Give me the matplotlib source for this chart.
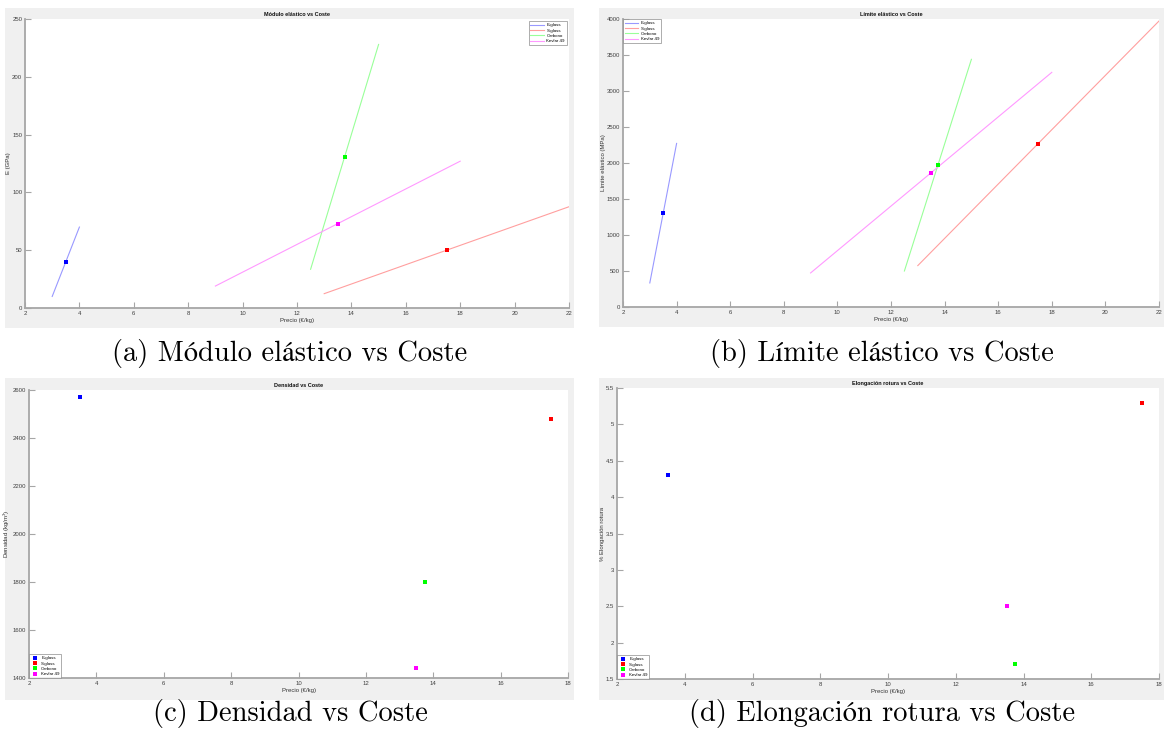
import matplotlib
matplotlib.use("Agg")
import matplotlib.pyplot as plt
from matplotlib.patches import Rectangle

# ---------------- data ----------------
materials = ['E-glass', 'S-glass', 'Carbono', 'Kevlar 49']
precio = [3.5, 17.5, 13.75, 13.5]
modulo = [40, 50, 131, 73]
limite = [1300, 2270, 1970, 1865]
densidad = [2570, 2480, 1800, 1440]
elongacion = [4.3, 5.3, 1.7, 2.5]

mod_line_x = [[3, 4], [13, 22], [12.5, 15], [9, 18]]
mod_line_y = [[10, 70], [12.4, 87.6], [33.5, 228], [19, 127]]
lim_line_x = [[3, 4], [13, 22], [12.5, 15], [9, 18]]
lim_line_y = [[334, 2272], [575, 3972], [500, 3440], [473, 3259]]

point_colors = ['#0000ff', '#ff0000', '#00ff00', '#ff00ff']
line_colors = ['#9999ff', '#ff9f9f', '#99ff99', '#ff99ff']

captions = ['(a) Módulo elástico vs Coste', '(b) Límite elástico vs Coste',
            '(c) Densidad vs Coste', '(d) Elongación rotura vs Coste']
titles = ['Módulo elástico vs Coste', 'Límite elástico vs Coste',
          'Densidad vs Coste', 'Elongación rotura vs Coste']
ylabels = ['E (GPa)', 'Límite elástico (MPa)', 'Densidad (kg/m$^3$)', '% Elongación rotura']
xlabel = 'Precio (€/kg)'

# ---------------- layout ----------------
W, H = 1164, 742
fig = plt.figure(figsize=(W / 100, H / 100), dpi=100)
fig.patch.set_facecolor('white')

SANS = ['Liberation Sans', 'DejaVu Sans']
SERIF = ['cmr10', 'STIXGeneral', 'DejaVu Serif']
plt.rcParams['font.family'] = SANS
plt.rcParams['mathtext.fontset'] = 'custom'
plt.rcParams['mathtext.rm'] = 'Liberation Sans'


def fig_rect(x0, y0, x1, y1):
    return [x0 / W, 1 - y1 / H, (x1 - x0) / W, (y1 - y0) / H]


def gray_panel(x0, y0, x1, y1):
    r = Rectangle((x0 / W, 1 - y1 / H), (x1 - x0) / W, (y1 - y0) / H,
                  transform=fig.transFigure, facecolor='#f0f0f0',
                  edgecolor='none', zorder=-10)
    fig.patches.append(r)


panels = [
    dict(gray=(5, 8, 574, 328), ax=(25, 19, 569, 308)),
    dict(gray=(599, 8, 1164, 327), ax=(623, 19, 1159, 307)),
    dict(gray=(5, 378, 574, 700), ax=(29, 390, 568, 678)),
    dict(gray=(599, 378, 1164, 700), ax=(617, 388, 1159, 679)),
]

axes = []
for p in panels:
    gray_panel(*p['gray'])
    x0, y0, x1, y1 = p['ax']
    ax = fig.add_axes(fig_rect(x0, y0, x1, y1))
    ax.set_facecolor('white')
    for s in ['top', 'right']:
        ax.spines[s].set_visible(False)
    for s in ['left', 'bottom']:
        ax.spines[s].set_color('#a6a6a6')
        ax.spines[s].set_linewidth(1.3)
    ax.tick_params(direction='in', length=4, width=0.8, color='#a6a6a6',
                   labelsize=4.3, labelcolor='#404040', pad=2)
    axes.append(ax)


def style(ax, i):
    ax.set_title(titles[i], fontsize=4.0, fontweight='bold', pad=2.5, color='#111111')
    ax.set_xlabel(xlabel, fontsize=4.3, labelpad=1.5, color='#333333')
    ax.set_ylabel(ylabels[i], fontsize=4.3, labelpad=0.5, color='#333333')


def make_legend(ax, loc, hl, bpad):
    leg = ax.legend(loc=loc, fontsize=3.2, frameon=True, fancybox=False,
                    handlelength=hl, handletextpad=0.6, borderpad=0.35,
                    labelspacing=0.3, borderaxespad=bpad)
    leg.get_frame().set_edgecolor('#888888')
    leg.get_frame().set_linewidth(0.6)
    return leg


# (a) Modulo
ax = axes[0]
for i in range(4):
    ax.plot(mod_line_x[i], mod_line_y[i], color=line_colors[i], lw=0.8, label=materials[i])
for i in range(4):
    ax.plot(precio[i], modulo[i], 's', color=point_colors[i], ms=2.6, mew=0)
ax.set_xlim(2, 22)
ax.set_ylim(0, 250)
ax.set_xticks(range(2, 23, 2))
ax.set_yticks(range(0, 251, 50))
style(ax, 0)
make_legend(ax, 'upper right', 3.0, 0.55)

# (b) Limite
ax = axes[1]
for i in range(4):
    ax.plot(lim_line_x[i], lim_line_y[i], color=line_colors[i], lw=0.8, label=materials[i])
for i in range(4):
    ax.plot(precio[i], limite[i], 's', color=point_colors[i], ms=2.6, mew=0)
ax.set_xlim(2, 22)
ax.set_ylim(0, 4000)
ax.set_xticks(range(2, 23, 2))
ax.set_yticks(range(0, 4001, 500))
style(ax, 1)
make_legend(ax, 'upper left', 3.0, 0.1)

# (c) Densidad
ax = axes[2]
for i in range(4):
    ax.plot(precio[i], densidad[i], 's', color=point_colors[i], ms=2.6, mew=0,
            label=materials[i], linestyle='none')
ax.set_xlim(2, 18)
ax.set_ylim(1400, 2600)
ax.set_xticks(range(2, 19, 2))
ax.set_yticks(range(1400, 2601, 200))
style(ax, 2)
make_legend(ax, 'lower left', 1.8, 0.0)

# (d) Elongacion
ax = axes[3]
for i in range(4):
    ax.plot(precio[i], elongacion[i], 's', color=point_colors[i], ms=2.6, mew=0,
            label=materials[i], linestyle='none')
ax.set_xlim(2, 18)
ax.set_ylim(1.5, 5.5)
ax.set_xticks(range(2, 19, 2))
ax.set_yticks([1.5, 2, 2.5, 3, 3.5, 4, 4.5, 5, 5.5])
ax.set_yticklabels(['1.5', '2', '2.5', '3', '3.5', '4', '4.5', '5', '5.5'])
style(ax, 3)
make_legend(ax, 'lower left', 1.8, 0.0)

# captions
cap_pos = [(290, 353), (882, 353), (290, 713), (882, 713)]
for (cx, cy), txt in zip(cap_pos, captions):
    fig.text(cx / W, 1 - cy / H, txt, ha='center', va='center',
             fontsize=20.5, family=SERIF, color='black')

fig.savefig('out.png', dpi=100, facecolor='white')
